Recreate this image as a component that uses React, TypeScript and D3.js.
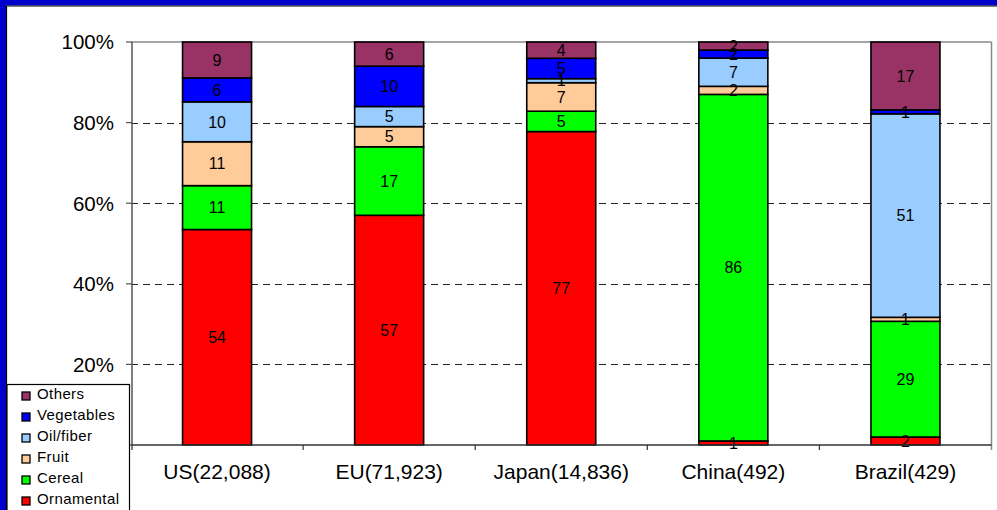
import React from "react";
import * as d3 from "d3";

const categories = ["US(22,088)", "EU(71,923)", "Japan(14,836)", "China(492)", "Brazil(429)"];
const seriesNames = ["Ornamental", "Cereal", "Fruit", "Oil/fiber", "Vegetables", "Others"];
const seriesColors = ["#FF0000", "#00FF00", "#FFCC99", "#99CCFF", "#0000FF", "#993366"];
const ornamental = [54, 57, 77, 1, 2];
const cereal = [11, 17, 5, 86, 29];
const fruit = [11, 5, 7, 2, 1];
const oilFiber = [10, 5, 1, 7, 51];
const vegetables = [6, 10, 5, 2, 1];
const others = [9, 6, 4, 2, 17];
const yTicks = [0, 0.2, 0.4, 0.6, 0.8, 1.0];
const yTickLabels = ["", "20%", "40%", "60%", "80%", "100%"];

const seriesValues = [ornamental, cereal, fruit, oilFiber, vegetables, others];

const W = 997;
const H = 510;
const plotLeft = 131;
const plotRight = 991.5;
const plotTop = 42;
const plotBottom = 445;
const FONT = "'Liberation Sans', Arial, sans-serif";

export default function App() {
  const band = d3.scaleBand<string>().domain(categories).range([plotLeft, plotRight]);
  const y = d3.scaleLinear().domain([0, 1]).range([plotBottom, plotTop]);

  const rows = categories.map((c, i) => {
    const obj: any = { cat: c };
    const total = d3.sum(seriesValues, (s) => s[i]);
    seriesNames.forEach((n, k) => (obj[n] = seriesValues[k][i] / total));
    return obj;
  });
  const stacked = d3.stack<any>().keys(seriesNames)(rows);

  const bw = 69;

  return (
    <svg width={W} height={H} style={{ position: "absolute", left: 0, top: 0, background: "#fff" }} fontFamily={FONT}>
      <rect x={0} y={0} width={W} height={H} fill="#fff" />
      {/* frame */}
      <rect x={0} y={0} width={W} height={5.5} fill="#0000CC" />
      <rect x={0} y={0} width={6} height={H} fill="#0000CC" />
      <line x1={6} x2={W} y1={6} y2={6} stroke="#000" strokeWidth={1.2} />
      <line x1={6.5} x2={6.5} y1={6} y2={H} stroke="#000" strokeWidth={1.2} />

      {/* gridlines */}
      {yTicks.slice(1, 5).map((t) => (
        <line key={t} x1={plotLeft} x2={plotRight} y1={Math.round(y(t)) + 0.5} y2={Math.round(y(t)) + 0.5} stroke="#222" strokeDasharray="7,5" strokeWidth={1} />
      ))}
      {/* plot border top & right */}
      <line x1={plotLeft} x2={plotRight} y1={plotTop} y2={plotTop} stroke="#888" strokeWidth={1.5} />
      <line x1={plotRight} x2={plotRight} y1={plotTop} y2={plotBottom + 5} stroke="#888" strokeWidth={1.5} />

      {/* bars */}
      {stacked.map((layer, k) => (
        <g key={layer.key}>
          {layer.map((d, i) => {
            const cx = (band(categories[i]) as number) + band.bandwidth() / 2;
            return (
              <rect key={i} x={cx - bw / 2} width={bw} y={y(d[1])} height={y(d[0]) - y(d[1])} fill={seriesColors[k]} stroke="#000" strokeWidth={1.6} />
            );
          })}
        </g>
      ))}
      {stacked.map((layer, k) => (
        <g key={"l" + layer.key}>
          {layer.map((d, i) => {
            const cx = (band(categories[i]) as number) + band.bandwidth() / 2;
            const cy = (y(d[0]) + y(d[1])) / 2;
            return (
              <text key={i} x={cx} y={cy} dy="0.36em" textAnchor="middle" fontSize={16} fill="#000">
                {seriesValues[k][i]}
              </text>
            );
          })}
        </g>
      ))}

      {/* axes */}
      <line x1={plotLeft + 1} x2={plotLeft + 1} y1={plotTop} y2={plotBottom + 5} stroke="#555" strokeWidth={1.5} />
      <line x1={plotLeft} x2={plotRight} y1={plotBottom} y2={plotBottom} stroke="#333" strokeWidth={1.5} />
      {yTicks.map((t, i) => (
        <g key={"yt" + t}>
          <line x1={plotLeft - 5} x2={plotLeft + 1} y1={y(t)} y2={y(t)} stroke="#555" strokeWidth={1.2} />
          {yTickLabels[i] && (
            <text x={114} y={y(t)} dy="0.36em" textAnchor="end" fontSize={20.5} fill="#000">
              {yTickLabels[i]}
            </text>
          )}
        </g>
      ))}
      {categories.map((c, i) => (
        <g key={c}>
          {i > 0 && (
            <line x1={band(c)} x2={band(c)} y1={plotBottom} y2={plotBottom + 5} stroke="#333" strokeWidth={1.2} />
          )}
          <text x={(band(c) as number) + band.bandwidth() / 2} y={479} textAnchor="middle" fontSize={21} fill="#000">
            {c}
          </text>
        </g>
      ))}

      {/* legend */}
      <rect x={7} y={384.5} width={122.5} height={140} fill="#fff" stroke="#000" strokeWidth={1.2} />
      {seriesNames
        .slice()
        .reverse()
        .map((n, j) => {
          const k = seriesNames.length - 1 - j;
          const by = 399 + j * 21;
          return (
            <g key={n}>
              <rect x={22} y={by - 7} width={8} height={8} fill={seriesColors[k]} stroke="#000" strokeWidth={1.3} />
              <text x={37} y={by} fontSize={15} letterSpacing={0.4} fill="#000">
                {n}
              </text>
            </g>
          );
        })}
    </svg>
  );
}
